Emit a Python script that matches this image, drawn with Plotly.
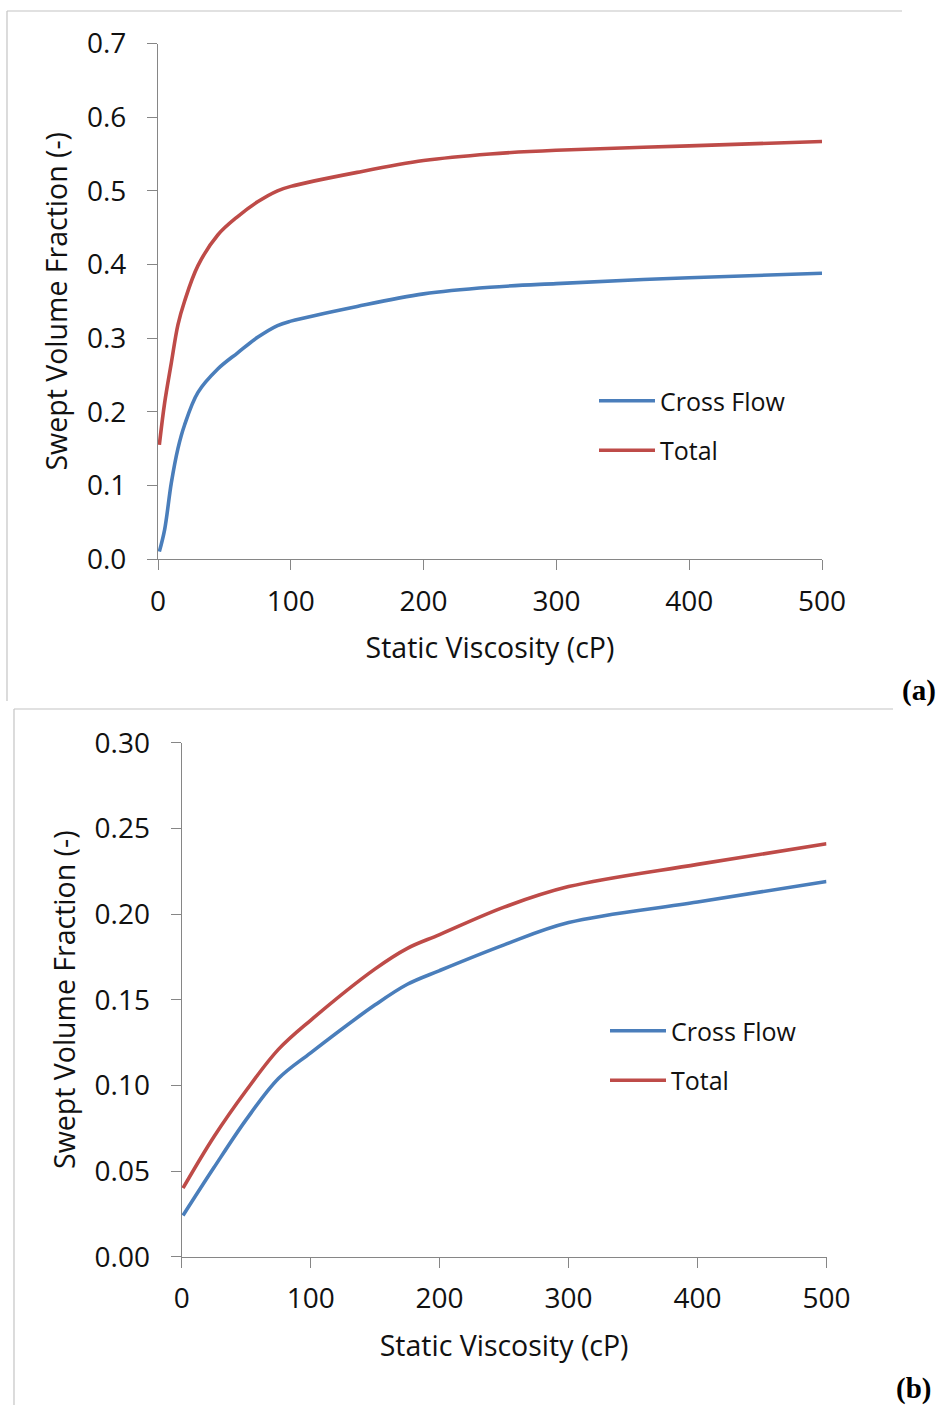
import plotly.graph_objects as go

# ---------------- data ----------------
# Panel (a)
visc_a = [1, 5, 10, 15, 20, 30, 45, 60, 75, 90, 100, 150, 200, 250, 300, 400, 500]
cross_a = [0.010, 0.040, 0.103, 0.150, 0.182, 0.226, 0.258, 0.280, 0.301, 0.317, 0.323,
           0.343, 0.360, 0.369, 0.374, 0.382, 0.388]
total_a = [0.155, 0.212, 0.266, 0.318, 0.350, 0.398, 0.440, 0.465, 0.485, 0.500, 0.506,
           0.525, 0.541, 0.550, 0.555, 0.561, 0.567]

# Panel (b)
visc_b = [1, 25, 50, 75, 100, 150, 175, 200, 250, 300, 400, 500]
cross_b = [0.024, 0.052, 0.080, 0.104, 0.119, 0.147, 0.159, 0.167, 0.182, 0.195, 0.207, 0.219]
total_b = [0.040, 0.070, 0.097, 0.121, 0.138, 0.168, 0.180, 0.188, 0.204, 0.216, 0.229, 0.241]

x_ticks = [0, 100, 200, 300, 400, 500]
series_names = ["Cross Flow", "Total"]
x_title = "Static Viscosity (cP)"
y_title = "Swept Volume Fraction (-)"
panel_labels = ["(a)", "(b)"]

# ---------------- style ----------------
W, H = 940, 1405
BLUE = "#4a7ebb"
RED = "#be4b48"
AXIS = "#868686"
FONT = "Open Sans"
LW = 3.6


def px_x(v):
    return v / W


def px_y(v):
    return 1 - v / H


fig = go.Figure()

fig.add_trace(go.Scatter(x=visc_a, y=cross_a, name=series_names[0], mode="lines",
                         line=dict(color=BLUE, width=LW, shape="spline"),
                         xaxis="x", yaxis="y", legend="legend", legendgroup="a1"))
fig.add_trace(go.Scatter(x=visc_a, y=total_a, name=series_names[1], mode="lines",
                         line=dict(color=RED, width=LW, shape="spline"),
                         xaxis="x", yaxis="y", legend="legend", legendgroup="a2"))
fig.add_trace(go.Scatter(x=visc_b, y=cross_b, name=series_names[0], mode="lines",
                         line=dict(color=BLUE, width=LW, shape="spline"),
                         xaxis="x2", yaxis="y2", legend="legend2", legendgroup="b1"))
fig.add_trace(go.Scatter(x=visc_b, y=total_b, name=series_names[1], mode="lines",
                         line=dict(color=RED, width=LW, shape="spline"),
                         xaxis="x2", yaxis="y2", legend="legend2", legendgroup="b2"))

tickfont = dict(family=FONT, size=28, color="#111111")
titlefont = dict(family=FONT, size=28.5, color="#111111")
legfont = dict(family=FONT, size=25, color="#111111")

common_x = dict(range=[0, 500], tickvals=x_ticks, showline=True, linecolor=AXIS, linewidth=1.3,
                ticks="outside", ticklen=10, tickcolor=AXIS, tickwidth=1.3, showgrid=False,
                zeroline=False, tickfont=tickfont, ticklabelstandoff=7, automargin=False,
                title=dict(text=x_title, font=titlefont, standoff=20))
common_y = dict(showline=True, linecolor=AXIS, linewidth=1.3, ticks="outside", ticklen=10,
                tickcolor=AXIS, tickwidth=1.3, showgrid=False, zeroline=False,
                tickfont=tickfont, ticklabelstandoff=15, automargin=False,
                title=dict(text=y_title, font=titlefont, standoff=10))

fig.update_layout(
    width=W, height=H,
    margin=dict(l=0, r=0, t=0, b=0, autoexpand=False),
    paper_bgcolor="white", plot_bgcolor="white",
    xaxis=dict(domain=[px_x(158), px_x(822)], anchor="y", **common_x),
    yaxis=dict(domain=[px_y(559), px_y(43.5)], anchor="x", range=[0, 0.7], dtick=0.1,
               tickformat=".1f", **common_y),
    xaxis2=dict(domain=[px_x(181.7), px_x(826.5)], anchor="y2", **common_x),
    yaxis2=dict(domain=[px_y(1256.7), px_y(742.7)], anchor="x2", range=[0, 0.30], dtick=0.05,
                tickformat=".2f", **common_y),
    legend=dict(x=px_x(594), y=px_y(378), xanchor="left", yanchor="top", font=legfont,
                itemwidth=56, bgcolor="rgba(0,0,0,0)", traceorder="grouped", tracegroupgap=14),
    legend2=dict(x=px_x(605), y=px_y(1008), xanchor="left", yanchor="top", font=legfont,
                 itemwidth=56, bgcolor="rgba(0,0,0,0)", traceorder="grouped", tracegroupgap=14),
    showlegend=True,
)

# Frame borders of the two pasted panels
border = dict(color="#c4c4c4", width=1.2)
fig.add_shape(type="line", xref="paper", yref="paper", x0=px_x(7), x1=px_x(902),
              y0=px_y(11), y1=px_y(11), line=border)
fig.add_shape(type="line", xref="paper", yref="paper", x0=px_x(7), x1=px_x(7),
              y0=px_y(11), y1=px_y(701), line=border)
fig.add_shape(type="line", xref="paper", yref="paper", x0=px_x(14), x1=px_x(893),
              y0=px_y(709), y1=px_y(709), line=border)
fig.add_shape(type="line", xref="paper", yref="paper", x0=px_x(14), x1=px_x(14),
              y0=px_y(709), y1=px_y(1405), line=border)

# Panel labels
fig.add_annotation(text="<b>" + panel_labels[0] + "</b>", xref="paper", yref="paper",
                   x=px_x(938), y=px_y(690), xanchor="right", yanchor="middle", showarrow=False,
                   font=dict(family="Liberation Serif", size=29, color="black"))
fig.add_annotation(text="<b>" + panel_labels[1] + "</b>", xref="paper", yref="paper",
                   x=px_x(933), y=px_y(1388), xanchor="right", yanchor="middle", showarrow=False,
                   font=dict(family="Liberation Serif", size=29, color="black"))

fig.write_html("out.html")
